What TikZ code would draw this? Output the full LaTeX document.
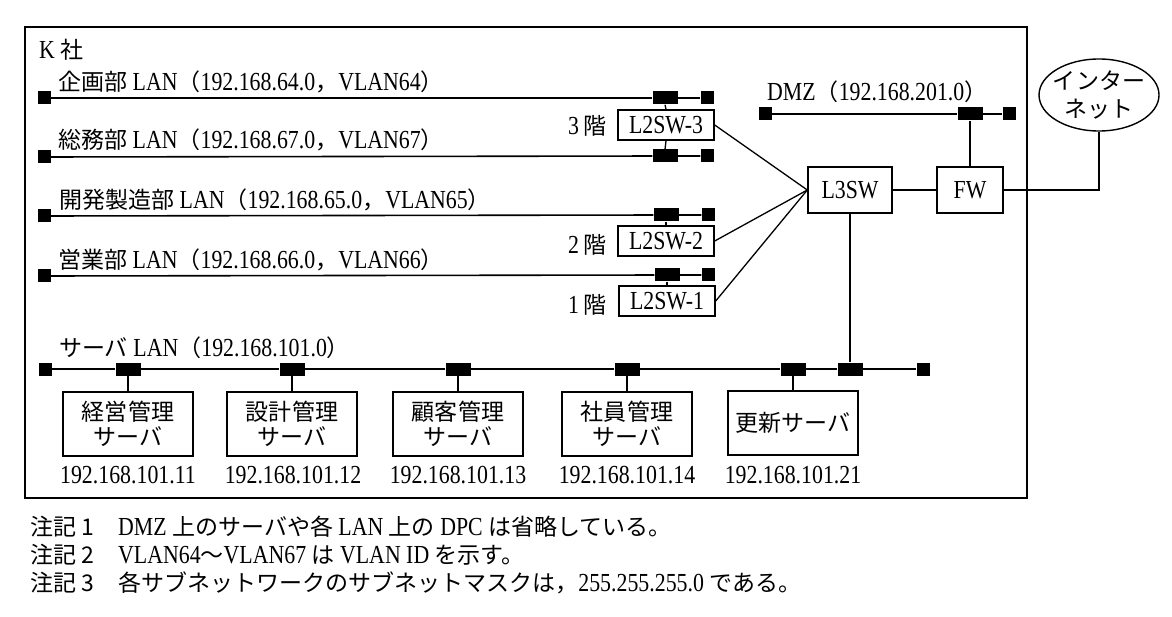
\documentclass[tikz,border=0pt]{standalone}
\usepackage{fontspec}
\setmainfont{Liberation Serif}[FakeStretch=0.84]
\newfontfamily\jp[Scale=0.885]{Noto Sans CJK JP}
\newcommand\jt[1]{{\jp #1}}
\usetikzlibrary{shapes.geometric}
\begin{document}
\begin{tikzpicture}[x=1pt,y=-1pt,
  every node/.style={font=\fontsize{26}{30}\selectfont, inner sep=0pt},
  lbl/.style={anchor=west},
  term/.style={fill=black, minimum width=13pt, minimum height=13pt},
  port/.style={fill=black, minimum width=25pt, minimum height=13pt},
  dev/.style={draw, line width=1.4pt, minimum width=96pt, minimum height=30pt},
  srv/.style={draw, line width=1.4pt, minimum width=130pt, minimum height=64pt, align=center, font={\fontsize{26}{25}\selectfont\jp}},
  bus/.style={line width=1.6pt},
  link/.style={line width=1.3pt},
]
\useasboundingbox (0,0) rectangle (1172,617);
\draw[line width=1.7pt] (25,27) rectangle (1027,498);

\node[lbl] (ksha) at (39,50) {K \jt{社}};

% department LANs
\node[lbl] (lk) at (58,82) {\jt{企画部} LAN\jt{（}192.168.64.0\jt{，}VLAN64\jt{）}};
\node[term] (t1a) at (44,98) {};
\node[port] (p1) at (665,98) {};
\node[term] (t1b) at (707,98) {};
\draw[bus] (t1a) -- (p1) -- (t1b);

\node[lbl] (ls) at (58,140) {\jt{総務部} LAN\jt{（}192.168.67.0\jt{，}VLAN67\jt{）}};
\node[term] (t2a) at (44,157) {};
\node[port] (p2) at (665,156) {};
\node[term] (t2b) at (707,156) {};
\draw[bus] (t2a) -- (p2) -- (t2b);

\node[lbl] (lh) at (59,200) {\jt{開発製造部} LAN\jt{（}192.168.65.0\jt{，}VLAN65\jt{）}};
\node[term] (t3a) at (44,216) {};
\node[port] (p3) at (666,215) {};
\node[term] (t3b) at (708,215) {};
\draw[bus] (t3a) -- (p3) -- (t3b);

\node[lbl] (le) at (58,260) {\jt{営業部} LAN\jt{（}192.168.66.0\jt{，}VLAN66\jt{）}};
\node[term] (t4a) at (44,276) {};
\node[port] (p4) at (667,275) {};
\node[term] (t4b) at (708,275) {};
\draw[bus] (t4a) -- (p4) -- (t4b);

% L2 switches
\node[dev] (sw3) at (666,125) {L2SW-3};
\node[lbl] (f3) at (568,126) {3\,\jt{階}};
\node[dev] (sw2) at (666,241) {L2SW-2};
\node[lbl] (f2) at (568,245) {2\,\jt{階}};
\node[dev] (sw1) at (667,301) {L2SW-1};
\node[lbl] (f1) at (568,305) {1\,\jt{階}};
\draw[link] (p1.south) -- (sw3.north);
\draw[link] (sw3.south) -- (p2.north);
\draw[link] (p3.south) -- (sw2.north);
\draw[link] (p4.south) -- (sw1.north);

% L3SW, FW
\node[dev, minimum width=84pt, minimum height=46pt] (l3) at (850,190) {L3SW};
\node[dev, minimum width=66pt, minimum height=46pt] (fw) at (970,190) {FW};
\draw[link] (sw3.east) -- (l3.west);
\draw[link] (sw2.east) -- (l3.west);
\draw[link] (sw1.east) -- (l3.west);
\draw[link] (l3.east) -- (fw.west);

% DMZ
\node[lbl] (ldmz) at (767,92) {DMZ\jt{（}192.168.201.0\jt{）}};
\node[term] (t5a) at (765,114) {};
\node[port] (p5) at (970,114) {};
\node[term] (t5b) at (1009,114) {};
\draw[bus] (t5a) -- (p5) -- (t5b);
\draw[link] (fw.north) -- (p5.south);

% Internet
\node[draw, ellipse, line width=1.4pt, minimum width=120pt, minimum height=72pt] (inet) at (1099,95) {};
\node[align=center, font={\fontsize{26}{28}\selectfont\jp}] (inettxt) at (inet.center) {インター\\ネット};
\draw[link] (fw.east) -| (inet.south);

% server LAN
\node[lbl] (lsv) at (59,348) {\jt{サーバ} LAN\jt{（}192.168.101.0\jt{）}};
\node[term] (t6a) at (45,369) {};
\node[port] (q1) at (128,369) {};
\node[port] (q2) at (292,369) {};
\node[port] (q3) at (458,369) {};
\node[port] (q4) at (627,369) {};
\node[port] (q5) at (793,369) {};
\node[port] (q6) at (850,369) {};
\node[term] (t6b) at (923,369) {};
\draw[bus] (t6a) -- (q1) -- (q2) -- (q3) -- (q4) -- (q5) -- (q6) -- (t6b);
\draw[link] (l3.south) -- (q6.north);

\node[srv] (s1) at (128,424) {経営管理\\サーバ};
\node[srv] (s2) at (292,424) {設計管理\\サーバ};
\node[srv] (s3) at (458,424) {顧客管理\\サーバ};
\node[srv] (s4) at (627,424) {社員管理\\サーバ};
\node[srv] (s5) at (793,423) {更新サーバ};
\foreach \i in {1,...,5} {\draw[link] (q\i.south) -- (s\i.north);}

\node (ip1) at (128,475) {192.168.101.11};
\node (ip2) at (293,475) {192.168.101.12};
\node (ip3) at (458,475) {192.168.101.13};
\node (ip4) at (627,475) {192.168.101.14};
\node (ip5) at (793,475) {192.168.101.21};

% notes
\node[lbl] (n1) at (30,527) {\jt{注記 1}};
\node[lbl] (n1b) at (118,527) {DMZ \jt{上のサーバや各} LAN \jt{上の} DPC \jt{は省略している。}};
\node[lbl] (n2) at (30,555) {\jt{注記 2}};
\node[lbl] (n2b) at (118,555) {VLAN64\jt{～}VLAN67 \jt{は} VLAN ID \jt{を示す。}};
\node[lbl] (n3) at (30,583) {\jt{注記 3}};
\node[lbl] (n3b) at (118,583) {\jt{各サブネットワークのサブネットマスクは，}255.255.255.0 \jt{である。}};
\end{tikzpicture}
\end{document}
